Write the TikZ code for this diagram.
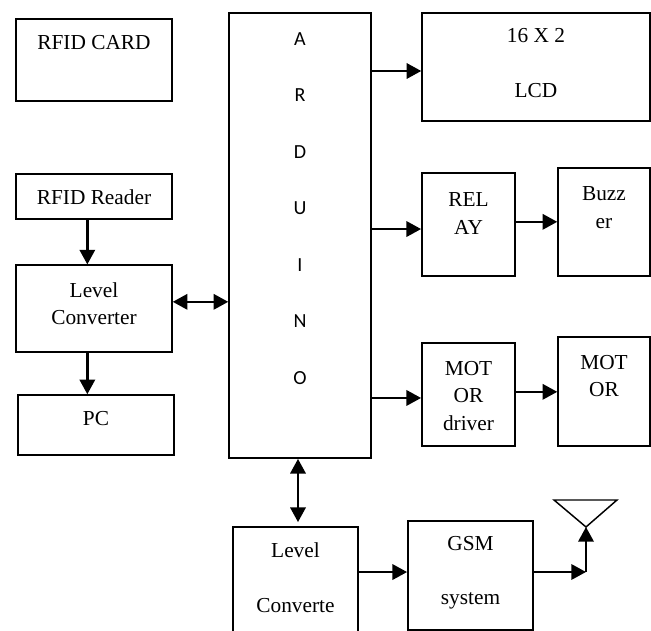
\documentclass[tikz,border=0pt]{standalone}
\usepackage{fontspec}
\setmainfont{Liberation Serif}
\newfontfamily\ardfont{Carlito}
\usetikzlibrary{arrows.meta}
\begin{document}
\begin{tikzpicture}[x=0.75pt, y=-0.75pt, font=\fontsize{16}{20.5}\selectfont]
    \tikzset{%
      blk/.style={draw, line width=1.1pt, inner sep=0pt},
      txt/.style={align=center, inner sep=0pt},
      arr/.style={line width=1.8pt, -{Triangle[length=11pt, width=11.5pt]}},
      darr/.style={arr, {Triangle[length=11pt, width=11.5pt]}-{Triangle[length=11pt, width=11.5pt]}}
      }
    \clip (0,0) rectangle (651,631);

    % left column
    \node [blk, minimum width=117pt, minimum height=61.5pt] (Xcard) at (94,60) {};
    \node [txt] (Tcard) at (94,43) {RFID CARD};
    \node [blk, minimum width=117pt, minimum height=34pt] (Xrdr) at (94,196.5) {};
    \node [txt] (Trdr) at (94,197) {RFID Reader};
    \node [blk, minimum width=117pt, minimum height=65pt] (Xlvl) at (94,308.5) {};
    \node [txt] (Tlvl) at (94,304) {Level\\Converter};
    \node [blk, minimum width=117pt, minimum height=45pt] (Xpc) at (96,425) {};
    \node [txt] (Tpc) at (96,419) {PC};
    \draw [arr] ([xshift=-5pt]Xrdr.south) -- ([xshift=-5pt]Xrdr.south |- Xlvl.north);
    \draw [arr] ([xshift=-5pt]Xlvl.south) -- ([xshift=-5pt]Xlvl.south |- Xpc.north);

    % controller
    \node [blk, minimum width=106.5pt, minimum height=334pt] (Xard) at (300,235.5) {};
    \node [txt, font=\ardfont\fontsize{15}{42.4}\selectfont] (Tard) at (300,208.5) {A\\R\\D\\U\\I\\N\\O};
    \draw [darr] ([yshift=5pt]Xlvl.east) -- ([yshift=5pt]Xlvl.east -| Xard.west);

    % outputs
    \node [blk, minimum width=171pt, minimum height=81pt] (Xlcd) at (536,67) {};
    \node [txt] (Tlcd) at (536,63) {16 X 2\\[21pt]LCD};
    \draw [arr] ([yshift=-3pt]Xlcd.west -| Xard.east) -- ([yshift=-3pt]Xlcd.west);

    \node [blk, minimum width=70pt, minimum height=77pt] (Xrel) at (468.5,224.5) {};
    \node [txt] (Trel) at (468.5,213.5) {REL\\AY};
    \node [blk, minimum width=69pt, minimum height=81pt] (Xbuz) at (604,222) {};
    \node [txt] (Tbuz) at (604,207.5) {Buzz\\er};
    \draw [arr] ([yshift=-3.4pt]Xrel.west -| Xard.east) -- ([yshift=-3.4pt]Xrel.west);
    \draw [arr] ([yshift=2pt]Xrel.east) -- ([yshift=2pt]Xrel.east -| Xbuz.west);

    \node [blk, minimum width=70pt, minimum height=77pt] (Xmdr) at (468.5,394.5) {};
    \node [txt] (Tmdr) at (468.5,396) {MOT\\OR\\driver};
    \node [blk, minimum width=69pt, minimum height=82pt] (Xmot) at (604,391.5) {};
    \node [txt] (Tmot) at (604,376) {MOT\\OR};
    \draw [arr] ([yshift=-2.6pt]Xmdr.west -| Xard.east) -- ([yshift=-2.6pt]Xmdr.west);
    \draw [arr] ([yshift=2pt]Xmdr.east) -- ([yshift=2pt]Xmdr.east -| Xmot.west);

    % gsm part
    \node [blk, minimum width=94pt, minimum height=100pt] (Xlvb) at (295.5,593.5) {};
    \node [txt] (Tlvb) at (295.5,578) {Level\\[21pt]Converte};
    \node [blk, minimum width=94pt, minimum height=82pt] (Xgsm) at (470.5,575.5) {};
    \node [txt] (Tgsm) at (470.5,573) {GSM\\[20pt]system};
    \draw [darr] ([xshift=-1.5pt]Xard.south) -- ([xshift=-1.5pt, yshift=3pt]Xard.south |- Xlvb.north);
    \draw [arr] ([yshift=2.6pt]Xgsm.west -| Xlvb.east) -- ([yshift=2.6pt]Xgsm.west);

    \coordinate (Xant) at (586,527);
    \coordinate (Xbend) at (586,572);
    \draw [line width=1.1pt, line join=miter] (Xant) -- (554,500) -- (617,500) -- cycle;
    \draw [arr] (Xgsm.east |- Xbend) -- (Xbend);
    \draw [arr] (Xbend) -- (Xant);
  \end{tikzpicture}
\end{document}
